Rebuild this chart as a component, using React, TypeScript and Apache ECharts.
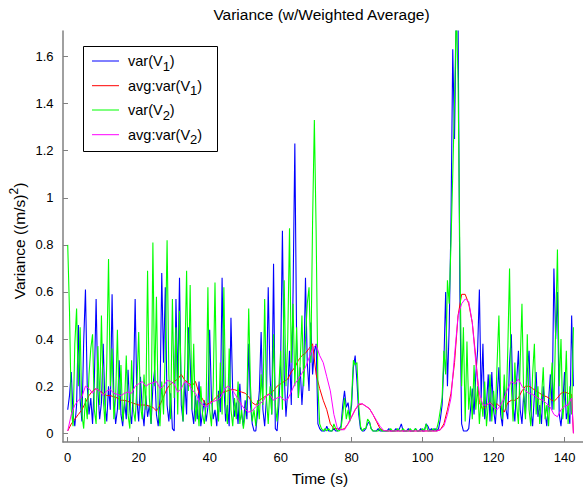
import React, { useEffect, useRef } from "react";
import * as echarts from "echarts";

// ---- data ----
const varStep = 0.5; // seconds between variance samples
const avgStep = 1; // seconds between averaged samples

const var1: number[] = [
  0.10, 0.16, 0.26, 0.08, 0.03, 0.12, 0.46, 0.14, 0.05, 0.39, 0.61, 0.20, 0.08, 0.15, 0.04, 0.22, 0.57, 0.18, 0.06, 0.13,
  0.38, 0.12, 0.05, 0.20, 0.10, 0.59, 0.15, 0.04, 0.10, 0.31, 0.08, 0.03, 0.14, 0.06, 0.27, 0.10, 0.04, 0.18, 0.57, 0.14,
  0.05, 0.24, 0.10, 0.03, 0.16, 0.07, 0.12, 0.04, 0.20, 0.27, 0.08, 0.03, 0.15, 0.68, 0.30, 0.62, 0.12, 0.05, 0.17, 0.02,
  0.01, 0.57, 0.20, 0.66, 0.12, 0.05, 0.22, 0.08, 0.45, 0.31, 0.10, 0.04, 0.16, 0.06, 0.22, 0.03, 0.09, 0.14, 0.05, 0.11,
  0.44, 0.15, 0.06, 0.10, 0.03, 0.18, 0.09, 0.66, 0.20, 0.05, 0.12, 0.03, 0.49, 0.17, 0.07, 0.13, 0.04, 0.21, 0.08, 0.03,
  0.14, 0.06, 0.38, 0.12, 0.04, 0.01, 0.01, 0.09, 0.18, 0.43, 0.10, 0.03, 0.15, 0.62, 0.25, 0.08, 0.72, 0.02, 0.01, 0.12,
  0.30, 0.86, 0.25, 0.07, 0.18, 0.35, 0.12, 0.60, 1.23, 0.40, 0.15, 0.28, 0.12, 0.25, 0.66, 0.30, 0.18, 0.47, 0.25, 0.35,
  0.38, 0.04, 0.02, 0.01, 0.01, 0.01, 0.03, 0.01, 0.01, 0.01, 0.02, 0.01, 0.01, 0.02, 0.03, 0.12, 0.18, 0.11, 0.13, 0.07,
  0.12, 0.28, 0.33, 0.22, 0.08, 0.02, 0.01, 0.01, 0.02, 0.04, 0.05, 0.02, 0.01, 0.01, 0.01, 0.02, 0.01, 0.01, 0.01, 0.01,
  0.01, 0.02, 0.01, 0.01, 0.01, 0.02, 0.01, 0.02, 0.04, 0.01, 0.01, 0.01, 0.02, 0.01, 0.01, 0.01, 0.02, 0.01, 0.01, 0.02,
  0.01, 0.01, 0.04, 0.03, 0.01, 0.02, 0.01, 0.02, 0.01, 0.02, 0.06, 0.12, 0.30, 0.60, 0.20, 0.45, 0.90, 1.63, 1.25, 1.80,
  1.75, 0.60, 0.04, 0.01, 0.01, 0.01, 0.02, 0.10, 0.19, 0.08, 0.25, 0.35, 0.61, 0.15, 0.38, 0.06, 0.12, 0.25, 0.05, 0.26,
  0.10, 0.04, 0.15, 0.28, 0.08, 0.03, 0.20, 0.10, 0.06, 0.30, 0.42, 0.12, 0.05, 0.22, 0.35, 0.10, 0.04, 0.17, 0.08, 0.26,
  0.35, 0.10, 0.03, 0.16, 0.26, 0.07, 0.12, 0.04, 0.20, 0.09, 0.03, 0.14, 0.25, 0.10, 0.70, 0.40, 0.60, 0.08, 0.03, 0.12,
  0.26, 0.06, 0.10, 0.04, 0.50, 0.20,
];

const var2: number[] = [
  0.80, 0.52, 0.10, 0.03, 0.38, 0.53, 0.20, 0.45, 0.08, 0.02, 0.15, 0.06, 0.25, 0.36, 0.42, 0.10, 0.04, 0.37, 0.12, 0.50,
  0.15, 0.04, 0.30, 0.74, 0.20, 0.36, 0.06, 0.15, 0.44, 0.10, 0.29, 0.05, 0.12, 0.33, 0.08, 0.02, 0.31, 0.10, 0.05, 0.20,
  0.43, 0.12, 0.06, 0.25, 0.10, 0.69, 0.15, 0.04, 0.81, 0.20, 0.58, 0.10, 0.03, 0.22, 0.08, 0.35, 0.82, 0.25, 0.06, 0.57,
  0.15, 0.45, 0.08, 0.52, 0.20, 0.05, 0.30, 0.69, 0.18, 0.63, 0.10, 0.38, 0.05, 0.14, 0.03, 0.20, 0.08, 0.04, 0.12, 0.62,
  0.10, 0.03, 0.20, 0.64, 0.15, 0.05, 0.30, 0.08, 0.62, 0.12, 0.04, 0.36, 0.10, 0.03, 0.15, 0.06, 0.22, 0.04, 0.10, 0.02,
  0.08, 0.15, 0.53, 0.20, 0.05, 0.10, 0.03, 0.14, 0.06, 0.25, 0.12, 0.57, 0.15, 0.04, 0.20, 0.08, 0.42, 0.12, 0.05, 0.20,
  0.35, 0.10, 0.65, 0.20, 0.40, 0.87, 0.30, 0.55, 0.20, 0.45, 0.15, 0.30, 0.50, 0.20, 0.40, 0.55, 0.62, 0.30, 0.90, 1.33,
  0.86, 0.20, 0.04, 0.02, 0.01, 0.02, 0.01, 0.02, 0.01, 0.01, 0.04, 0.02, 0.01, 0.01, 0.02, 0.08, 0.15, 0.06, 0.10, 0.05,
  0.15, 0.31, 0.29, 0.30, 0.12, 0.03, 0.01, 0.02, 0.02, 0.06, 0.05, 0.02, 0.01, 0.01, 0.01, 0.01, 0.02, 0.01, 0.01, 0.01,
  0.01, 0.01, 0.02, 0.01, 0.01, 0.01, 0.02, 0.01, 0.01, 0.02, 0.01, 0.01, 0.01, 0.02, 0.01, 0.01, 0.02, 0.01, 0.01, 0.01,
  0.02, 0.01, 0.04, 0.01, 0.01, 0.01, 0.02, 0.01, 0.02, 0.05, 0.10, 0.15, 0.35, 0.25, 0.65, 0.55, 0.81, 1.10, 1.41, 1.80,
  1.50, 0.75, 0.20, 0.45, 0.05, 0.39, 0.10, 0.20, 0.06, 0.29, 0.10, 0.20, 0.04, 0.15, 0.07, 0.22, 0.03, 0.12, 0.25, 0.05,
  0.18, 0.08, 0.30, 0.50, 0.15, 0.06, 0.25, 0.10, 0.35, 0.70, 0.20, 0.05, 0.30, 0.12, 0.04, 0.30, 0.55, 0.15, 0.06, 0.42,
  0.10, 0.03, 0.25, 0.38, 0.08, 0.20, 0.04, 0.15, 0.28, 0.06, 0.12, 0.03, 0.18, 0.30, 0.10, 0.45, 0.78, 0.20, 0.40, 0.06,
  0.15, 0.35, 0.04, 0.20, 0.08, 0.45,
];

const avgVar1: number[] = [
  0.01, 0.04, 0.06, 0.08, 0.10, 0.13, 0.16, 0.18, 0.19, 0.18,
  0.17, 0.16, 0.16, 0.155, 0.15, 0.14, 0.14, 0.135, 0.13, 0.125,
  0.12, 0.12, 0.12, 0.115, 0.11, 0.095, 0.12, 0.155, 0.19, 0.21,
  0.22, 0.23, 0.25, 0.225, 0.215, 0.20, 0.22, 0.17, 0.145, 0.12,
  0.13, 0.14, 0.155, 0.17, 0.175, 0.18, 0.185, 0.185, 0.18, 0.175,
  0.17, 0.155, 0.13, 0.12, 0.14, 0.15, 0.16, 0.17, 0.18, 0.20,
  0.21, 0.22, 0.23, 0.26, 0.28, 0.31, 0.33, 0.34, 0.36, 0.38,
  0.25, 0.19, 0.14, 0.10, 0.04, 0.02, 0.02, 0.015, 0.02, 0.04,
  0.07, 0.10, 0.12, 0.125, 0.115, 0.105, 0.08, 0.05, 0.02, 0.012,
  0.01, 0.01, 0.01, 0.01, 0.01, 0.01, 0.01, 0.01, 0.01, 0.01,
  0.01, 0.01, 0.01, 0.01, 0.01, 0.015, 0.04, 0.10, 0.17, 0.30,
  0.50, 0.59, 0.59, 0.55, 0.47, 0.32, 0.13, 0.10, 0.12, 0.13,
  0.12, 0.125, 0.11, 0.09, 0.13, 0.14, 0.14, 0.15, 0.18, 0.20,
  0.20, 0.19, 0.18, 0.17, 0.16, 0.155, 0.145, 0.135, 0.15, 0.17,
  0.175, 0.17, 0.165,
];

const avgVar2: number[] = [
  0.01, 0.08, 0.12, 0.14, 0.155, 0.20, 0.19, 0.17, 0.19, 0.18,
  0.16, 0.18, 0.185, 0.17, 0.165, 0.16, 0.17, 0.175, 0.17, 0.20,
  0.21, 0.22, 0.20, 0.21, 0.215, 0.22, 0.19, 0.20, 0.225, 0.22,
  0.21, 0.175, 0.19, 0.22, 0.21, 0.185, 0.17, 0.14, 0.12, 0.113,
  0.125, 0.135, 0.14, 0.15, 0.18, 0.20, 0.19, 0.17, 0.145, 0.12,
  0.10, 0.09, 0.095, 0.113, 0.125, 0.135, 0.16, 0.165, 0.14, 0.15,
  0.155, 0.14, 0.145, 0.176, 0.21, 0.23, 0.255, 0.28, 0.32, 0.36,
  0.375, 0.33, 0.30, 0.24, 0.18, 0.08, 0.02, 0.015, 0.015, 0.04,
  0.07, 0.10, 0.125, 0.125, 0.115, 0.105, 0.08, 0.055, 0.03, 0.012,
  0.01, 0.01, 0.01, 0.01, 0.01, 0.01, 0.01, 0.01, 0.01, 0.01,
  0.01, 0.01, 0.01, 0.01, 0.01, 0.015, 0.03, 0.08, 0.15, 0.33,
  0.50, 0.55, 0.57, 0.56, 0.47, 0.30, 0.17, 0.12, 0.12, 0.13,
  0.11, 0.10, 0.12, 0.15, 0.19, 0.22, 0.21, 0.23, 0.20, 0.18,
  0.17, 0.165, 0.155, 0.145, 0.14, 0.125, 0.11, 0.08, 0.07, 0.10,
  0.115, 0.12, 0.15,
];
// final sample of the averaged traces (drops to zero at the end of the record)
const avgEnd = { time: 142.5, value: 0 };

const xTicks = [0, 20, 40, 60, 80, 100, 120, 140];
const yTicks = [0, 0.2, 0.4, 0.6, 0.8, 1, 1.2, 1.4, 1.6];

const titleText = "Variance (w/Weighted Average)";
const xLabel = "Time (s)";
const legendItems = [
  { name: "var(V", sub: "1", color: "#0000ff" },
  { name: "avg:var(V", sub: "1", color: "#ff0000" },
  { name: "var(V", sub: "2", color: "#00ff00" },
  { name: "avg:var(V", sub: "2", color: "#ff00ff" },
];

const FONT = '"Liberation Sans", Arial, Helvetica, sans-serif';

function toPairs(values: number[], step: number): number[][] {
  return values.map((v, i) => [i * step, v]);
}

export default function App() {
  const ref = useRef<HTMLDivElement>(null);

  useEffect(() => {
    if (!ref.current) return;
    const chart = echarts.init(ref.current, undefined, { renderer: "svg" });

    const cv = document.createElement("canvas").getContext("2d")!;
    const measure = (t: string, size: number) => {
      cv.font = `${size}px ${FONT}`;
      return cv.measureText(t).width;
    };

    const textEl = (text: string, x: number, y: number, size = 13, align = "left") => ({
      type: "text",
      x,
      y,
      style: {
        text,
        fill: "#000",
        fontSize: size,
        fontFamily: FONT,
        textAlign: align,
        textVerticalAlign: "middle",
        align,
        verticalAlign: "middle",
      },
    });

    // legend
    const lgLeft = 83.5, lgTop = 46.5, lgW = 134, lgH = 105;
    const rowY = [61, 85.7, 110, 134.7];
    const LG = 14.5, LGS = 13;
    const legendChildren: any[] = [
      {
        type: "rect",
        shape: { x: lgLeft, y: lgTop, width: lgW, height: lgH },
        style: { fill: "#fff", stroke: "#000", lineWidth: 1 },
      },
    ];
    legendItems.forEach((it, i) => {
      const y = rowY[i];
      legendChildren.push({
        type: "line",
        shape: { x1: 92, y1: y, x2: 119, y2: y },
        style: { stroke: it.color, lineWidth: 1 },
      });
      const w1 = measure(it.name, LG);
      legendChildren.push(textEl(it.name, 128, y, LG));
      legendChildren.push(textEl(it.sub, 128 + w1, y + 5, LGS));
      const w2 = measure(it.sub, LGS);
      legendChildren.push(textEl(")", 128 + w1 + w2, y, LG));
    });

    // y axis label with superscript, rotated
    const LB = 15.5, LBS = 12;
    const yl1 = "Variance ((m/s)";
    const yl2 = "2";
    const yl3 = ")";
    const wA = measure(yl1, LB);
    const wB = measure(yl2, LBS);
    const wC = measure(yl3, LB);
    const yLabelW = wA + wB + wC;
    const yLabelCenter = 241;

    chart.setOption({
      animation: false,
      backgroundColor: "#fff",
      grid: { left: 63, top: 31, width: 520, height: 411, containLabel: false },
      xAxis: {
        type: "value",
        min: -1.33,
        max: 145.2,
        axisLine: { onZero: false, lineStyle: { color: "#808080", width: 1.5 } },
        axisTick: { inside: true, length: 5, customValues: xTicks, lineStyle: { color: "#808080" } },
        axisLabel: { customValues: xTicks, margin: 9, color: "#000", fontSize: 13, fontFamily: FONT },
        splitLine: { show: false },
      },
      yAxis: {
        type: "value",
        min: -0.037,
        max: 1.708,
        axisLine: { show: true, onZero: false, lineStyle: { color: "#808080", width: 1.5 } },
        axisTick: { show: true, inside: true, length: 5, customValues: yTicks, lineStyle: { color: "#808080" } },
        axisLabel: { customValues: yTicks, margin: 9.5, color: "#000", fontSize: 13, fontFamily: FONT },
        splitLine: { show: false },
      },
      series: [
        {
          name: "var(V1)",
          type: "line",
          data: toPairs(var1, varStep),
          showSymbol: false,
          symbol: "none",
          lineStyle: { color: "#0000ff", width: 1.1 },
          itemStyle: { color: "#0000ff" },
          clip: true,
        },
        {
          name: "avg:var(V1)",
          type: "line",
          data: [...toPairs(avgVar1, avgStep), [avgEnd.time, avgEnd.value]],
          showSymbol: false,
          symbol: "none",
          lineStyle: { color: "#ff0000", width: 1 },
          itemStyle: { color: "#ff0000" },
          clip: true,
        },
        {
          name: "var(V2)",
          type: "line",
          data: toPairs(var2, varStep),
          showSymbol: false,
          symbol: "none",
          lineStyle: { color: "#00ff00", width: 1.1 },
          itemStyle: { color: "#00ff00" },
          clip: true,
        },
        {
          name: "avg:var(V2)",
          type: "line",
          data: [...toPairs(avgVar2, avgStep), [avgEnd.time, avgEnd.value]],
          showSymbol: false,
          symbol: "none",
          lineStyle: { color: "#ff00ff", width: 1 },
          itemStyle: { color: "#ff00ff" },
          clip: true,
        },
      ],
      graphic: [
        textEl(titleText, 321.5, 14, LB, "center"),
        textEl(xLabel, 320, 478, LB, "center"),
        {
          type: "group",
          x: 19.5,
          y: yLabelCenter + yLabelW / 2,
          rotation: Math.PI / 2,
          children: [
            textEl(yl1, 0, 0, LB),
            textEl(yl2, wA, -6, LBS),
            textEl(yl3, wA + wB, 0, LB),
          ],
        },
        { type: "group", children: legendChildren, z: 100 },
      ],
    });

    return () => chart.dispose();
  }, []);

  return (
    <div
      ref={ref}
      style={{ position: "fixed", left: 0, top: 0, width: 583, height: 489, background: "#fff" }}
    />
  );
}
